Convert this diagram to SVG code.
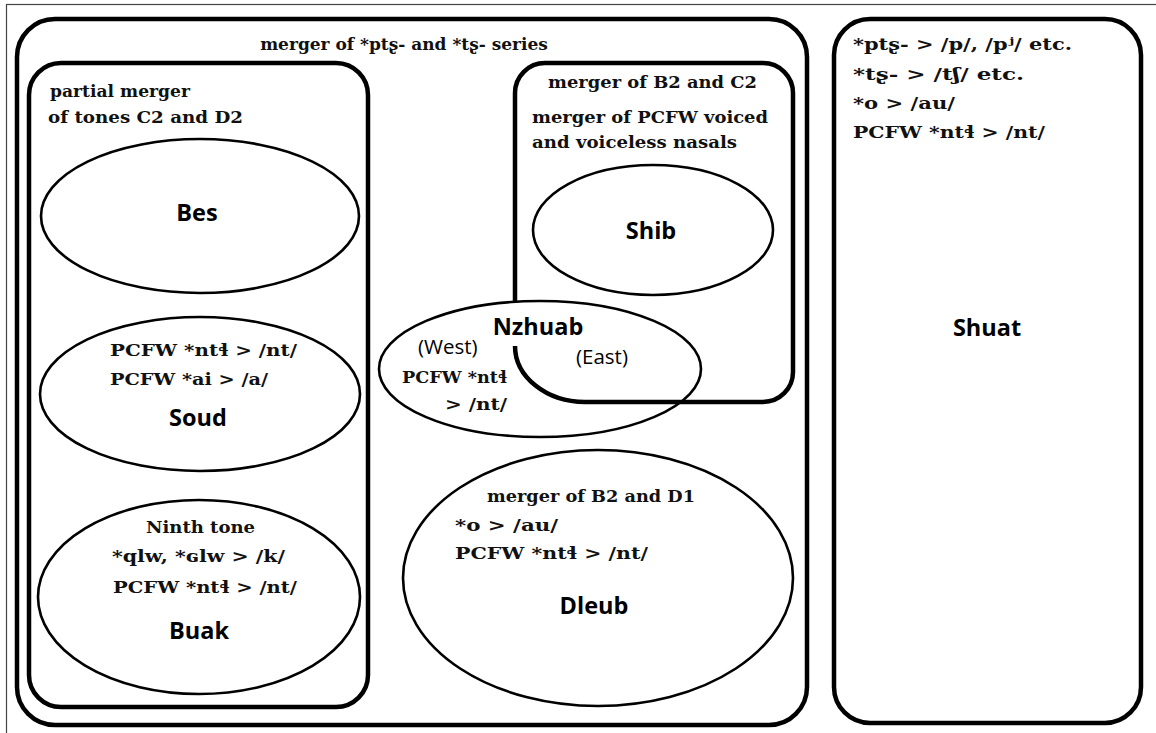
<svg xmlns="http://www.w3.org/2000/svg" width="1156" height="733" viewBox="0 0 1156 733">
<style>
.box{fill:none;stroke:#000;stroke-width:4.5}
.ell{fill:none;stroke:#000;stroke-width:2.6}
.s{font-family:"DejaVu Serif","Liberation Serif",serif;font-size:17px;font-weight:bold;fill:#111}
.l{font-family:"Open Sans","DejaVu Sans",sans-serif;font-size:23.5px;font-weight:bold;fill:#000;text-anchor:middle}
.p{font-family:"Open Sans","DejaVu Sans",sans-serif;font-size:20.5px;fill:#000}
.c{text-anchor:middle}
</style>
<rect width="1156" height="733" fill="#fff"/>
<rect x="6.5" y="4.5" width="1160" height="740" fill="none" stroke="#444" stroke-width="1.2"/>

<g id="series">
<rect class="box" x="17" y="19" width="790" height="706" rx="38"/>
<text class="s c" x="404" y="50">merger of *ptʂ- and *tʂ- series</text>
</g>

<g id="tones-c2-d2">
<rect class="box" x="29" y="63" width="339" height="644" rx="32"/>
<text class="s" x="50" y="97" textLength="140" lengthAdjust="spacingAndGlyphs">partial merger</text>
<text class="s" x="48" y="123" textLength="195" lengthAdjust="spacingAndGlyphs">of tones C2 and D2</text>
</g>

<g id="bes">
<ellipse class="ell" cx="200" cy="216" rx="159" ry="77"/>
<text class="l" x="197" y="221">Bes</text>
</g>

<g id="soud">
<ellipse class="ell" cx="200" cy="394" rx="160" ry="77"/>
<text class="s" x="110" y="356" textLength="187" lengthAdjust="spacingAndGlyphs">PCFW *ntɬ &gt; /nt/</text>
<text class="s" x="110" y="385" textLength="158" lengthAdjust="spacingAndGlyphs">PCFW *ai &gt; /a/</text>
<text class="l" x="198" y="426">Soud</text>
</g>

<g id="buak">
<ellipse class="ell" cx="199" cy="597" rx="161" ry="97"/>
<text class="s" x="146" y="533" textLength="109" lengthAdjust="spacingAndGlyphs">Ninth tone</text>
<text class="s" x="112" y="562" textLength="173" lengthAdjust="spacingAndGlyphs">*qlw, *ɢlw &gt; /k/</text>
<text class="s" x="113" y="593" textLength="184" lengthAdjust="spacingAndGlyphs">PCFW *ntɬ &gt; /nt/</text>
<text class="l" x="199" y="639">Buak</text>
</g>

<g id="b2-c2">
<path class="box" d="M515,303 V93 A30,30 0 0 1 545,63 H763 A30,30 0 0 1 793,93 V372 A30,30 0 0 1 763,402 H585 A70,56 0 0 1 515,346"/>
<text class="s" x="548" y="88" textLength="209" lengthAdjust="spacingAndGlyphs">merger of B2 and C2</text>
<text class="s" x="532" y="123" textLength="236" lengthAdjust="spacingAndGlyphs">merger of PCFW voiced</text>
<text class="s" x="532" y="148" textLength="205" lengthAdjust="spacingAndGlyphs">and voiceless nasals</text>
</g>

<g id="shib">
<ellipse class="ell" cx="653" cy="230" rx="120" ry="65"/>
<text class="l" x="651" y="239">Shib</text>
</g>

<g id="nzhuab">
<ellipse class="ell" cx="540" cy="369" rx="161" ry="68"/>
<text class="l" x="538" y="335">Nzhuab</text>
<text class="p" x="418" y="354">(West)</text>
<text class="p" x="576" y="364">(East)</text>
<text class="s" x="402" y="383" textLength="105" lengthAdjust="spacingAndGlyphs">PCFW *ntɬ</text>
<text class="s" x="445" y="410" textLength="62" lengthAdjust="spacingAndGlyphs">&gt; /nt/</text>
</g>

<g id="dleub">
<ellipse class="ell" cx="598" cy="578" rx="195" ry="128"/>
<text class="s" x="487" y="502" textLength="208" lengthAdjust="spacingAndGlyphs">merger of B2 and D1</text>
<text class="s" x="455" y="531" textLength="103" lengthAdjust="spacingAndGlyphs">*o &gt; /au/</text>
<text class="s" x="455" y="559" textLength="193" lengthAdjust="spacingAndGlyphs">PCFW *ntɬ &gt; /nt/</text>
<text class="l" x="594" y="614">Dleub</text>
</g>

<g id="shuat">
<rect class="box" x="834" y="19" width="307" height="704" rx="36"/>
<text class="s" x="853" y="50" textLength="219" lengthAdjust="spacingAndGlyphs">*ptʂ- &gt; /p/, /pʲ/ etc.</text>
<text class="s" x="853" y="80" textLength="171" lengthAdjust="spacingAndGlyphs">*tʂ- &gt; /tʃ/ etc.</text>
<text class="s" x="853" y="109" textLength="102" lengthAdjust="spacingAndGlyphs">*o &gt; /au/</text>
<text class="s" x="853" y="138" textLength="192" lengthAdjust="spacingAndGlyphs">PCFW *ntɬ &gt; /nt/</text>
<text class="l" x="987" y="336">Shuat</text>
</g>

<g id="connectors"></g>
</svg>
